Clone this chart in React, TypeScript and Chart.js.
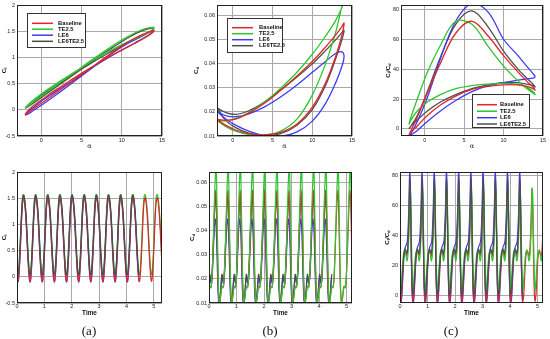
import React, { useEffect, useRef } from "react";
import { Chart, registerables } from "chart.js";
Chart.register(...registerables);

const NAMES = ["Baseline", "TE2.5", "LE6", "LE6TE2.5"];
const COLORS = ["#e0262b", "#2ec52e", "#3b3bf5", "#4d4d4d"];

// angle of attack over one pitching cycle (24 samples, starting at minimum)
const ALPHA = [-2, -1.73, -0.93, 0.34, 2, 3.93, 6, 8.07, 10, 11.66, 12.93, 13.73, 14, 13.73, 12.93, 11.66, 10, 8.07, 6, 3.93, 2, 0.34, -0.93, -1.73];

const CL_BASELINE = [-0.09, -0.07, 0.02, 0.16, 0.34, 0.55, 0.78, 1.01, 1.22, 1.37, 1.46, 1.5, 1.51, 1.46, 1.38, 1.27, 1.14, 0.98, 0.79, 0.59, 0.4, 0.22, 0.08, -0.03];
const CL_TE25 = [0.04, 0.06, 0.15, 0.29, 0.48, 0.69, 0.92, 1.14, 1.33, 1.47, 1.55, 1.57, 1.57, 1.52, 1.45, 1.36, 1.24, 1.09, 0.9, 0.7, 0.51, 0.34, 0.19, 0.08];
const CL_LE6 = [-0.1, -0.09, -0.01, 0.12, 0.3, 0.52, 0.76, 1.0, 1.2, 1.35, 1.45, 1.5, 1.52, 1.47, 1.39, 1.28, 1.14, 0.97, 0.77, 0.56, 0.37, 0.2, 0.05, -0.05];
const CL_LE6TE25 = [0.03, 0.05, 0.13, 0.27, 0.45, 0.66, 0.89, 1.11, 1.3, 1.45, 1.53, 1.56, 1.56, 1.51, 1.44, 1.34, 1.22, 1.06, 0.87, 0.67, 0.48, 0.31, 0.16, 0.06];

const CD_BASELINE = [0.017, 0.0168, 0.0165, 0.017, 0.0195, 0.0235, 0.029, 0.035, 0.041, 0.047, 0.052, 0.0555, 0.057, 0.052, 0.043, 0.032, 0.022, 0.015, 0.0115, 0.0105, 0.011, 0.0125, 0.0145, 0.0163];
const CD_TE25 = [0.0168, 0.0165, 0.0163, 0.0172, 0.0198, 0.024, 0.0298, 0.0365, 0.044, 0.0515, 0.058, 0.0635, 0.067, 0.064, 0.053, 0.04, 0.027, 0.017, 0.012, 0.0102, 0.0106, 0.012, 0.014, 0.0158];
const CD_LE6 = [0.0205, 0.0198, 0.0185, 0.018, 0.0192, 0.022, 0.0262, 0.0312, 0.0365, 0.041, 0.0443, 0.045, 0.043, 0.039, 0.032, 0.0235, 0.0162, 0.0117, 0.0099, 0.0102, 0.012, 0.0145, 0.0172, 0.0195];
const CD_LE6TE25 = [0.022, 0.0212, 0.0198, 0.019, 0.0205, 0.024, 0.029, 0.0345, 0.04, 0.0455, 0.05, 0.053, 0.054, 0.05, 0.042, 0.031, 0.021, 0.0145, 0.011, 0.0102, 0.0112, 0.0135, 0.0165, 0.0205];

const CLCD_BASELINE = [-4, -2, 2, 9, 16, 22, 26.5, 28.5, 29.5, 29.5, 28.5, 27, 26, 28, 32, 39, 49, 62, 72, 64, 44, 24, 8, -1];
const CLCD_TE25 = [3, 6, 12, 18, 23, 27, 29, 30, 30.5, 30, 28, 25, 23, 24, 27, 33, 42, 55, 70, 72, 56, 38, 20, 8];
const CLCD_LE6 = [-5, -4, -1, 5, 12, 19, 25, 29, 31, 32.5, 33.5, 34, 35, 37, 42, 50, 60, 78, 84, 72, 47, 21, 5, -3];
const CLCD_LE6TE25 = [0, 2, 6, 12, 18, 23, 27, 29.5, 31, 31, 30, 29, 28, 30, 34, 41, 52, 68, 79, 70, 48, 25, 9, 2];

const X_TICKS_ALPHA = [0, 5, 10, 15];
const X_TICKS_TIME = [0, 1, 2, 3, 4, 5];
const Y_TICKS_CL = [-0.5, 0, 0.5, 1, 1.5, 2];
const Y_TICKS_CD = [0.01, 0.02, 0.03, 0.04, 0.05, 0.06];
const Y_TICKS_CLCD = [0, 20, 40, 60, 80];

// time history: pitching period, start of first cycle, cycles recorded per case
const PERIOD = 0.444;
const T_START = 0.028;
const CYCLES = [12, 12, 10, 10];

const CL = [CL_BASELINE, CL_TE25, CL_LE6, CL_LE6TE25];
const CD = [CD_BASELINE, CD_TE25, CD_LE6, CD_LE6TE25];
const CLCD = [CLCD_BASELINE, CLCD_TE25, CLCD_LE6, CLCD_LE6TE25];

const FONT = "'Liberation Sans', Arial, sans-serif";

function loopData(vals: number[]) {
  const pts = ALPHA.map((a, i) => ({ x: a, y: vals[i] }));
  pts.push({ x: ALPHA[0], y: vals[0] });
  return pts;
}
function timeData(vals: number[], cycles: number) {
  const n = vals.length;
  const pts: { x: number; y: number }[] = [];
  for (let c = 0; c < cycles; c++) {
    for (let k = 0; k < n; k++) pts.push({ x: T_START + PERIOD * (c + k / n), y: vals[k] });
  }
  pts.push({ x: T_START + PERIOD * cycles, y: vals[0] });
  return pts;
}

type Part = [string, boolean];
type Spec = {
  box: [number, number, number, number];
  plot: [number, number, number, number];
  xr: [number, number];
  yr: [number, number];
  xTicks: number[];
  yTicks: number[];
  series: number[][];
  time: boolean;
  order: number[];
  yTitle: Part[];
  yTitleX: number;
  xTitle: string;
  xTitleY: number;
  xBold: boolean;
  tickPad: number;
  legend?: { x: number; y: number; w: number; h: number; rows: number[]; l0: number; l1: number; tx: number };
};

const CL_T: Part[] = [["C", false], ["l", true]];
const CD_T: Part[] = [["C", false], ["d", true]];
const CLCD_T: Part[] = [["C", false], ["l", true], ["/C", false], ["d", true]];

const SPECS: Spec[] = [
  { box: [0, 0, 180, 155], plot: [17, 5, 162, 136], xr: [-3, 15], yr: [-0.5, 2], xTicks: X_TICKS_ALPHA, yTicks: Y_TICKS_CL, series: CL, time: false, order: [0, 1, 2, 3], yTitle: CL_T, yTitleX: 4, xTitle: "α", xTitleY: 146, xBold: false, tickPad: 1,
    legend: { x: 27, y: 13, w: 59, h: 35, rows: [23.3, 29.2, 35.2, 41.3], l0: 32, l1: 53, tx: 58 } },
  { box: [180, 0, 185, 155], plot: [217, 5, 352, 136], xr: [-2, 15], yr: [0.01, 0.0645], xTicks: X_TICKS_ALPHA, yTicks: Y_TICKS_CD, series: CD, time: false, order: [0, 1, 2, 3], yTitle: CD_T, yTitleX: 196, xTitle: "α", xTitleY: 146, xBold: false, tickPad: 1,
    legend: { x: 227, y: 18, w: 56, h: 35, rows: [27.7, 33.7, 39.7, 45.7], l0: 232, l1: 253, tx: 259 } },
  { box: [365, 0, 185, 155], plot: [401, 5, 543, 136], xr: [-3, 15], yr: [-4.7, 82.9], xTicks: X_TICKS_ALPHA, yTicks: Y_TICKS_CLCD, series: CLCD, time: false, order: [0, 1, 2, 3], yTitle: CLCD_T, yTitleX: 388, xTitle: "α", xTitleY: 146, xBold: false, tickPad: 1,
    legend: { x: 472, y: 94, w: 58, h: 34, rows: [104.7, 111.2, 117.7, 124], l0: 477, l1: 497, tx: 500 } },
  { box: [0, 160, 180, 179], plot: [17, 172, 162, 303], xr: [0, 5.3], yr: [-0.5, 2], xTicks: X_TICKS_TIME, yTicks: Y_TICKS_CL, series: CL, time: true, order: [1, 3, 2, 0], yTitle: CL_T, yTitleX: 4, xTitle: "Time", xTitleY: 313, xBold: true, tickPad: 0 },
  { box: [180, 160, 185, 179], plot: [209, 172, 352, 303], xr: [0, 5.2], yr: [0.01, 0.0645], xTicks: X_TICKS_TIME, yTicks: Y_TICKS_CD, series: CD, time: true, order: [1, 0, 3, 2], yTitle: CD_T, yTitleX: 192, xTitle: "Time", xTitleY: 313, xBold: true, tickPad: 0 },
  { box: [365, 160, 185, 179], plot: [400, 172, 543, 303], xr: [0, 5.2], yr: [-4.9, 82.5], xTicks: X_TICKS_TIME, yTicks: Y_TICKS_CLCD, series: CLCD, time: true, order: [2, 1, 3, 0], yTitle: CLCD_T, yTitleX: 387, xTitle: "Time", xTitleY: 313, xBold: true, tickPad: 0 },
];

function drawParts(ctx: CanvasRenderingContext2D, parts: Part[], size: number) {
  let total = 0;
  const widths: number[] = [];
  for (const [t, sub] of parts) {
    ctx.font = `bold ${sub ? size * 0.7 : size}px ${FONT}`;
    const w = ctx.measureText(t).width;
    widths.push(w);
    total += w;
  }
  let cx = -total / 2;
  parts.forEach(([t, sub], i) => {
    ctx.font = `bold ${sub ? size * 0.7 : size}px ${FONT}`;
    ctx.fillText(t, cx, sub ? size * 0.3 : 0);
    cx += widths[i];
  });
}

function Panel({ spec }: { spec: Spec }) {
  const ref = useRef<HTMLCanvasElement>(null);
  useEffect(() => {
    const [bx, by, bw, bh] = spec.box;
    const [pl, pt, pr, pb] = spec.plot;
    const deco = {
      id: "deco",
      afterDraw(chart: any) {
        const ctx: CanvasRenderingContext2D = chart.ctx;
        const a = chart.chartArea;
        ctx.save();
        ctx.strokeStyle = "#222";
        ctx.lineWidth = 1;
        ctx.strokeRect(Math.round(a.left) + 0.5, Math.round(a.top) + 0.5, Math.round(a.right - a.left) - 1, Math.round(a.bottom - a.top) - 1);
        ctx.fillStyle = "#111";
        ctx.textBaseline = "middle";
        ctx.textAlign = "left";
        // y title
        ctx.save();
        ctx.translate(spec.yTitleX - bx, (a.top + a.bottom) / 2);
        ctx.rotate(-Math.PI / 2);
        drawParts(ctx, spec.yTitle, 6.2);
        ctx.restore();
        // x title
        ctx.textAlign = "center";
        ctx.font = `${spec.xBold ? "bold " : ""}${spec.xBold ? 6.4 : 6.5}px ${spec.xBold ? FONT : "'DejaVu Serif', serif"}`;
        ctx.fillText(spec.xTitle, (a.left + a.right) / 2, spec.xTitleY - by);
        // legend
        const L = spec.legend;
        if (L) {
          ctx.fillStyle = "#fff";
          ctx.fillRect(L.x - bx, L.y - by, L.w, L.h);
          ctx.strokeStyle = "#333";
          ctx.lineWidth = 1;
          ctx.strokeRect(L.x - bx + 0.5, L.y - by + 0.5, L.w - 1, L.h - 1);
          ctx.textAlign = "left";
          ctx.font = `bold 5.8px ${FONT}`;
          NAMES.forEach((n, i) => {
            const yy = L.rows[i] - by;
            ctx.strokeStyle = COLORS[i];
            ctx.lineWidth = 1.5;
            ctx.beginPath();
            ctx.moveTo(L.l0 - bx, yy);
            ctx.lineTo(L.l1 - bx, yy);
            ctx.stroke();
            ctx.fillStyle = "#111";
            ctx.fillText(n, L.tx - bx, yy);
          });
        }
        ctx.restore();
      },
    };
    const datasets = spec.series.map((vals, i) => ({
      label: NAMES[i],
      data: spec.time ? timeData(vals, CYCLES[i]) : loopData(vals),
      borderColor: COLORS[i],
      backgroundColor: COLORS[i],
      borderWidth: spec.time ? 1.2 : 1.3,
      pointRadius: 0,
      fill: false,
      order: spec.order[i],
      tension: spec.time ? 0 : 0.35,
      cubicInterpolationMode: spec.time ? "monotone" : "default",
    }));
    const tickFont = { family: FONT, size: 5.5 };
    const chart = new Chart(ref.current as HTMLCanvasElement, {
      type: "line",
      data: { datasets } as any,
      options: {
        animation: false,
        responsive: false,
        maintainAspectRatio: false,
        events: [],
        layout: { padding: { left: 0, bottom: 0, top: pt - by, right: bx + bw - pr } },
        plugins: { legend: { display: false }, tooltip: { enabled: false } },
        scales: {
          x: {
            type: "linear",
            min: spec.xr[0],
            max: spec.xr[1],
            afterBuildTicks: (s: any) => { s.ticks = spec.xTicks.map((v) => ({ value: v })); },
            afterFit: (s: any) => { s.height = by + bh - pb; s.paddingLeft = 0; s.paddingRight = 0; },
            grid: { color: "#a9a9a9", lineWidth: 1, drawTicks: false },
            border: { display: false },
            ticks: { font: tickFont, color: "#222", padding: spec.tickPad, maxRotation: 0, autoSkip: false, callback: (v: any) => String(v) },
          },
          y: {
            type: "linear",
            min: spec.yr[0],
            max: spec.yr[1],
            afterBuildTicks: (s: any) => { s.ticks = spec.yTicks.map((v) => ({ value: v })); },
            afterFit: (s: any) => { s.width = pl - bx; s.paddingTop = 0; s.paddingBottom = 0; },
            grid: { color: "#a9a9a9", lineWidth: 1, drawTicks: false },
            border: { display: false },
            ticks: { font: tickFont, color: "#222", padding: 2, autoSkip: false, callback: (v: any) => String(v) },
          },
        },
      } as any,
      plugins: [deco],
    });
    return () => chart.destroy();
  }, [spec]);
  const [bx, by, bw, bh] = spec.box;
  return (
    <canvas
      ref={ref}
      width={bw}
      height={bh}
      style={{ position: "absolute", left: bx, top: by, width: bw, height: bh }}
    />
  );
}

const CAPTIONS: [string, number][] = [["(a)", 89], ["(b)", 270], ["(c)", 451]];

export default function App() {
  return (
    <div style={{ position: "absolute", left: 0, top: 0, width: 550, height: 339, background: "#fff", overflow: "hidden" }}>
      {SPECS.map((s, i) => (
        <Panel key={i} spec={s} />
      ))}
      {CAPTIONS.map(([t, x]) => (
        <div
          key={t}
          style={{ position: "absolute", left: x - 20, width: 40, top: 323, textAlign: "center", fontFamily: "'Liberation Serif', 'DejaVu Serif', serif", fontSize: 13, lineHeight: "16px", color: "#111" }}
        >
          {t}
        </div>
      ))}
    </div>
  );
}
